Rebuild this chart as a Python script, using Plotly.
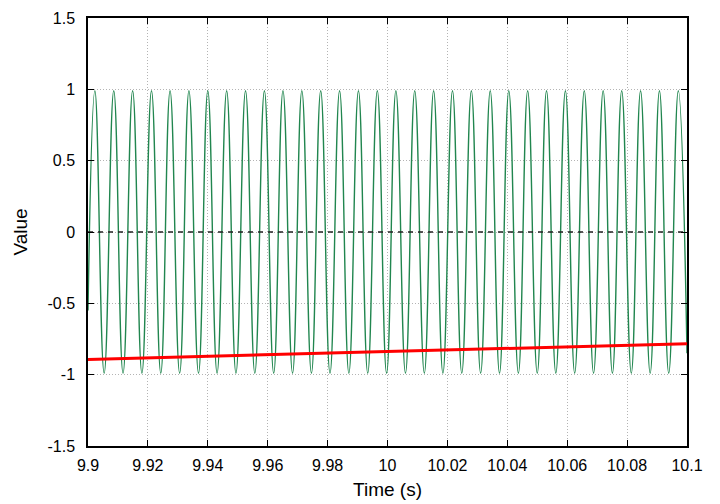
import plotly.graph_objects as go

# signal extrema (time in s)
peak_t = [9.9023, 9.9086, 9.9149, 9.9212, 9.9274, 9.9337, 9.9400, 9.9463,
          9.9526, 9.9589, 9.9651, 9.9714, 9.9777, 9.9840, 9.9903, 9.9966,
          10.0028, 10.0091, 10.0154, 10.0217, 10.0280, 10.0343, 10.0405, 10.0468,
          10.0531, 10.0594, 10.0657, 10.0720, 10.0782, 10.0845, 10.0908, 10.0971]
peak_v = [0.99, 0.99, 0.99, 0.99, 0.99, 0.99, 0.99, 0.99,
          0.99, 0.99, 0.99, 0.99, 0.99, 0.99, 0.99, 0.99,
          0.99, 0.99, 0.99, 0.99, 0.99, 0.99, 0.99, 0.99,
          0.99, 0.99, 0.99, 0.99, 0.99, 0.99, 0.99, 0.99]
trough_t = [9.9054, 9.9117, 9.9180, 9.9243, 9.9306, 9.9369, 9.9431, 9.9494,
            9.9557, 9.9620, 9.9683, 9.9746, 9.9808, 9.9871, 9.9934, 9.9997,
            10.0060, 10.0123, 10.0185, 10.0248, 10.0311, 10.0374, 10.0437, 10.0500,
            10.0562, 10.0625, 10.0688, 10.0751, 10.0814, 10.0877, 10.0939]
trough_v = [-0.99, -0.99, -0.99, -0.99, -0.99, -0.99, -0.99, -0.99,
            -0.99, -0.99, -0.99, -0.99, -0.99, -0.99, -0.99, -0.99,
            -0.99, -0.99, -0.99, -0.99, -0.99, -0.99, -0.99, -0.99,
            -0.99, -0.99, -0.99, -0.99, -0.99, -0.99, -0.99]
edge_t = [9.9, 10.1]
edge_v = [-0.55, -0.85]

# red trend line and zero reference
trend_t = [9.9, 10.1]
trend_v = [-0.893, -0.783]
zero_t = [9.9, 10.1]
zero_v = [0, 0]

x_ticks = [9.9, 9.92, 9.94, 9.96, 9.98, 10.0, 10.02, 10.04, 10.06, 10.08, 10.1]
x_labels = ["9.9", "9.92", "9.94", "9.96", "9.98", "10", "10.02", "10.04", "10.06", "10.08", "10.1"]
y_ticks = [-1.5, -1, -0.5, 0, 0.5, 1, 1.5]
y_labels = ["-1.5", "-1", "-0.5", "0", "0.5", "1", "1.5"]

pts = sorted(zip(peak_t + trough_t + edge_t, peak_v + trough_v + edge_v))
sig_t = [p[0] for p in pts]
sig_v = [p[1] for p in pts]

fig = go.Figure()
fig.add_trace(go.Scatter(x=sig_t, y=sig_v, mode="lines",
                         line=dict(color="#21864f", width=1.4, shape="spline", smoothing=1.3)))
fig.add_trace(go.Scatter(x=zero_t, y=zero_v, mode="lines",
                         line=dict(color="#222222", width=1.5, dash="5px,5px")))
fig.add_trace(go.Scatter(x=trend_t, y=trend_v, mode="lines",
                         line=dict(color="#ff0000", width=3)))

axis_common = dict(showgrid=True, gridcolor="#b4b4b4", griddash="1px,2px", gridwidth=1,
                   showline=True, linecolor="black", linewidth=1.5, mirror="ticks",
                   ticks="inside", ticklen=6, tickcolor="black", tickwidth=1,
                   zeroline=False, automargin=False,
                   tickfont=dict(size=16, color="black"))

# page body has an 8px margin, so the figure is sized and offset to fit 720x504
fig.update_layout(
    width=712, height=496,
    margin=dict(l=80, r=33, t=10, b=58),
    paper_bgcolor="white", plot_bgcolor="white",
    showlegend=False,
    font=dict(family="Liberation Sans, Arial, sans-serif", size=16, color="black"),
    xaxis=dict(range=[9.9, 10.1], tickvals=x_ticks, ticktext=x_labels,
               ticklabelstandoff=4,
               title=dict(text="Time (s)", standoff=10), **axis_common),
    yaxis=dict(range=[-1.5, 1.5], tickvals=y_ticks, ticktext=y_labels,
               ticklabelstandoff=8,
               title=dict(text="Value", standoff=15), **axis_common),
)

fig.write_html("out.html")
